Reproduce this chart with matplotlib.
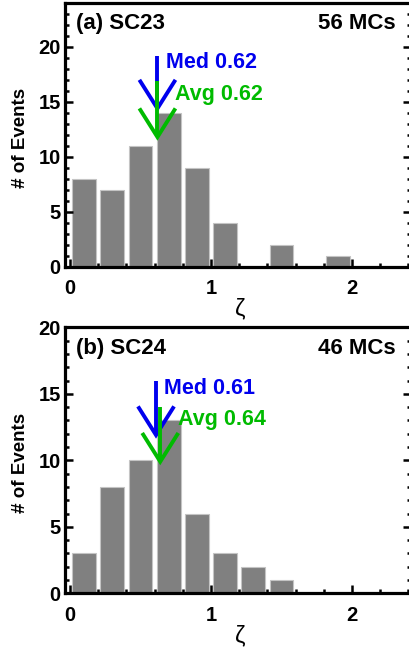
import matplotlib
matplotlib.use("Agg")
import matplotlib.pyplot as plt
from matplotlib.ticker import MultipleLocator

plt.rcParams['font.family'] = ['Liberation Sans', 'DejaVu Sans']

# ---- data ----
bin_centers = [0.1, 0.3, 0.5, 0.7, 0.9, 1.1, 1.3, 1.5, 1.7, 1.9]
counts_sc23 = [8, 7, 11, 14, 9, 4, 0, 2, 0, 1]
counts_sc24 = [3, 8, 10, 13, 6, 3, 2, 1, 0, 0]
panel_titles = ["(a) SC23", "(b) SC24"]
panel_counts = ["56 MCs", "46 MCs"]
med_values = [0.62, 0.61]
avg_values = [0.62, 0.64]
# arrow vertical extents (top, tip) in counts
med_arrow_y = [(19.2, 14.4), (16.0, 11.9)]
avg_arrow_y = [(16.9, 11.8), (14.0, 9.9)]
ylims = [24, 20]

W, H = 409, 648
fig = plt.figure(figsize=(W / 100, H / 100), dpi=100)

left_px, right_px = 65, 411
panels_px = [(3, 266.7), (327.3, 593.3)]  # top, bottom

blue = '#0000ee'
green = '#00bb00'
lw_arrow = 2.8

for i, (top, bot) in enumerate(panels_px):
    ax = fig.add_axes([left_px / W, (H - bot) / H, (right_px - left_px) / W, (bot - top) / H])
    counts = counts_sc23 if i == 0 else counts_sc24
    ax.bar(bin_centers, counts, width=0.17, color='#808080', edgecolor='#c4c4c4',
           linewidth=0.8, zorder=1)
    x0 = (left_px - 70) / 141.0
    x1 = (right_px - 70) / 141.0
    ax.set_xlim(x0, x1)
    ax.set_ylim(0, ylims[i])

    ppu_y = (bot - top) / ylims[i]
    head_dx = 17 / 141.0
    head_dy = 27 / ppu_y

    for val, (yt, ytip), col in [(med_values[i], med_arrow_y[i], blue),
                                 (avg_values[i], avg_arrow_y[i], green)]:
        ax.plot([val, val], [yt, ytip], color=col, lw=lw_arrow, solid_capstyle='butt', zorder=4)
        ax.plot([val - head_dx, val, val + head_dx], [ytip + head_dy, ytip, ytip + head_dy],
                color=col, lw=lw_arrow, solid_joinstyle='miter', zorder=4)

    # labels
    med_txt_x = [(166 - 70) / 141.0, (164 - 70) / 141.0][i]
    avg_txt_x = [(175 - 70) / 141.0, (178.3 - 70) / 141.0][i]
    med_txt_y = [(266.7 - 62.7) / ppu_y, (593.3 - 388.3) / ppu_y][i]
    avg_txt_y = [(266.7 - 94.3) / ppu_y, (593.3 - 420) / ppu_y][i]
    ax.text(med_txt_x, med_txt_y, f"Med {med_values[i]:.2f}", color=blue, fontsize=15.5,
            fontweight='bold', ha='left', va='center', zorder=5)
    ax.text(avg_txt_x, avg_txt_y, f"Avg {avg_values[i]:.2f}", color=green, fontsize=15.5,
            fontweight='bold', ha='left', va='center', zorder=5)

    ax.text(0.032, 0.922, panel_titles[i], transform=ax.transAxes, fontsize=16,
            fontweight='bold', ha='left', va='center')
    ax.text(0.955, 0.922, panel_counts[i], transform=ax.transAxes, fontsize=16,
            fontweight='bold', ha='right', va='center')

    ax.set_ylabel("# of Events", fontsize=13.5, fontweight='bold', va='center', ha='center')
    ax.yaxis.set_label_coords(-0.13, 0.49)
    ax.set_xlabel("ζ", fontsize=17, va='center', ha='center')
    ax.xaxis.set_label_coords(0.506, -0.16)

    ax.xaxis.set_major_locator(MultipleLocator(1))
    ax.xaxis.set_minor_locator(MultipleLocator(0.2))
    ax.yaxis.set_major_locator(MultipleLocator(5))
    ax.yaxis.set_minor_locator(MultipleLocator(1))
    ax.tick_params(which='both', direction='in', top=False, right=True, width=1.8)
    ax.tick_params(which='major', length=6)
    ax.tick_params(which='minor', length=3)
    ax.tick_params(axis='x', which='major', pad=9, labelsize=14.5)
    ax.tick_params(axis='y', which='major', pad=3, labelsize=14.5)
    for lab in ax.get_xticklabels() + ax.get_yticklabels():
        lab.set_fontweight('bold')
    for sp in ax.spines.values():
        sp.set_linewidth(2.3)

fig.savefig("out.png", dpi=100)
